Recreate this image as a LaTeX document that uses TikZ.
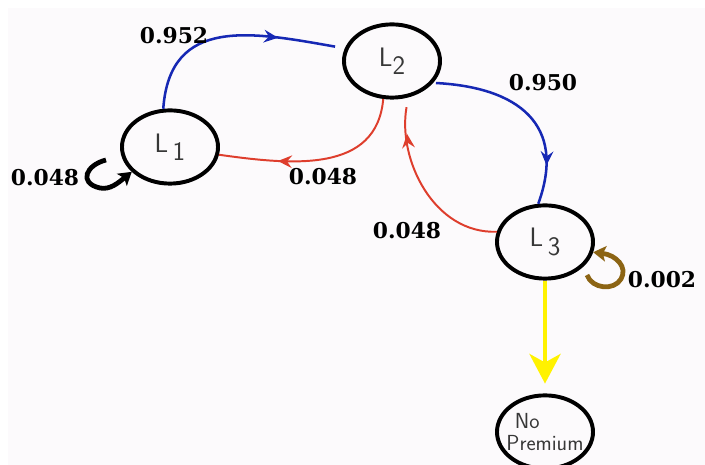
\documentclass[tikz,border=0pt]{standalone}
\usepackage{fontspec}
\usepackage{tikz}
\usetikzlibrary{arrows.meta,shapes.geometric,decorations.markings}
\newfontfamily\probfont{DejaVu Serif}
\definecolor{bgpink}{RGB}{252,250,252}
\definecolor{edgeblue}{RGB}{22,40,180}
\definecolor{edgered}{RGB}{222,62,45}
\definecolor{loopbrown}{RGB}{140,100,20}
\definecolor{statetext}{RGB}{55,55,55}

\begin{document}
\begin{tikzpicture}[>=Stealth,x=0.025cm,y=0.025cm,
  state/.style={draw,ellipse,line width=2.8pt,minimum width=2.4cm,minimum height=1.83cm,inner sep=0pt,
    text=statetext,font=\sffamily\fontsize{19}{20}\selectfont},
  prob/.style={font=\probfont\bfseries\fontsize{15.5}{17}\selectfont},
  midarrow/.style={postaction={decorate},decoration={markings,
    mark=at position #1 with {\arrow{Stealth[length=10pt,width=9pt,inset=3.5pt]}}}},
  up/.style={edgeblue,line width=1.8pt},
  down/.style={edgered,line width=1.4pt},
  curl/.style={line width=3.4pt,-{Stealth[length=9pt,width=11pt,inset=2pt]}}]
\useasboundingbox (0,0) rectangle (705,465);
\fill[white] (0,0) rectangle (705,465);
\fill[bgpink] (8,0) rectangle (705,457);

\node[state] (l1) at (170,318) {L\,\raisebox{-6pt}{1}};
\node[state] (l2) at (392,404) {L\raisebox{-6pt}{2}};
\node[state] (l3) at (545,223) {L\,\raisebox{-6pt}{3}};
\node[state,inner sep=-8pt,align=left,font=\sffamily\fontsize{15.5}{15}\selectfont] (np) at (545,33) {\hspace*{6pt}No\\Premium};

% transitions between levels
\draw[up,midarrow=0.7,shorten >=7pt] (l1.100) to[out=86,in=170,looseness=1.25] (l2.165);
\draw[down,midarrow=0.7] (l2.257) to[out=-95,in=-8,looseness=1.1] (l1.-9);
\draw[up,midarrow=0.8,shorten <=2pt] (l2.-28) to[out=-3,in=70,looseness=1.35] (l3.100);
\draw[down,midarrow=0.8,shorten >=7pt] (l3.168) to[out=182,in=-100] (l2.-66);
\draw[yellow,line width=3.4pt,-{Stealth[length=21pt,width=22pt,inset=6pt]},shorten >=7pt] (l3) -- (np);

% staying in the same level
\coordinate (c1) at (106,305);
\draw[curl] (c1) .. controls (86,300) and (78,282) .. (100,277) .. controls (110,275) and (118,282) .. (l1.213);
\coordinate (c3) at (587,190);
\draw[curl,loopbrown] (c3) .. controls (592,176) and (614,174) .. (621,186) .. controls (628,198) and (616,210) .. (l3.-12);

\node[prob] (p12) at (174,429) {0.952};
\node[prob] (p21) at (323,288) {0.048};
\node[prob] (p11) at (45,287) {0.048};
\node[prob] (p23) at (543,382) {0.950};
\node[prob] (p32) at (407,234) {0.048};
\node[prob] (p33) at (662,185) {0.002};
\end{tikzpicture}
\end{document}
